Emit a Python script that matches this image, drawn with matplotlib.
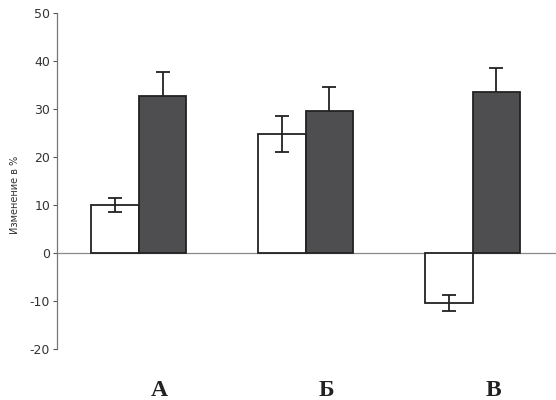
import numpy as np
import matplotlib.pyplot as plt

plt.rcParams['axes.unicode_minus'] = False

groups = ['А', 'Б', 'В']
white_vals = [10.0, 24.8, -10.4]
white_err = [1.5, 3.8, 1.6]
dark_vals = [32.8, 29.5, 33.5]
dark_err = [5.0, 5.0, 5.0]

fig = plt.figure(figsize=(5.56, 4.0), dpi=100)
ax = fig.add_axes([57 / 556, 51 / 400, 1 - 57 / 556, 336 / 400])

x = np.arange(len(groups))
w = 0.285

ax.bar(x - w / 2, white_vals, w, color='white', edgecolor='#222222', linewidth=1.3, zorder=2)
ax.errorbar(x - w / 2, white_vals, yerr=white_err, fmt='none', ecolor='#222222',
            elinewidth=1.3, capsize=4.7, capthick=1.3, zorder=3)
ax.errorbar(x + w / 2, dark_vals, yerr=dark_err, fmt='none', ecolor='#222222',
            elinewidth=1.3, capsize=4.7, capthick=1.3, zorder=1)
ax.bar(x + w / 2, dark_vals, w, color='#4e4e50', edgecolor='#222222', linewidth=1.3, zorder=2)

ax.axhline(0, color='#8a8a8a', linewidth=0.9, zorder=0)

ax.set_xlim(-0.49, 2.5)
ax.set_ylim(-20, 50)
ax.set_yticks(np.arange(-20, 51, 10))
ax.tick_params(axis='y', labelsize=9, colors='#555555', labelcolor='#333333',
               length=3, width=0.8, pad=2)
ax.set_xticks(x + 0.125)
ax.set_xticklabels(groups, fontfamily='Liberation Serif', fontweight='bold', fontsize=17)
ax.tick_params(axis='x', length=0, pad=22, labelcolor='#222222')

for s in ['top', 'right', 'bottom']:
    ax.spines[s].set_visible(False)
ax.spines['left'].set_color('#777777')
ax.spines['left'].set_linewidth(0.9)

ax.set_ylabel('Изменение в %', fontsize=7, color='#333333')
ax.yaxis.set_label_coords(-0.075, 0.46)

fig.savefig('out.png', dpi=100)
